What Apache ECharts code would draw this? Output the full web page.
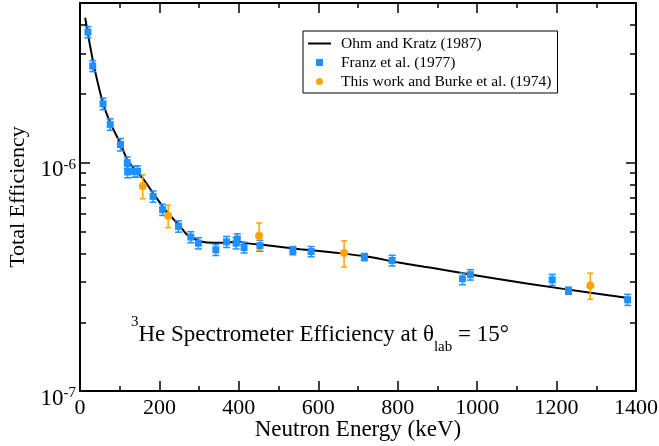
<!DOCTYPE html>
<html>
<head>
<meta charset="utf-8">
<style>
  html, body { margin: 0; padding: 0; background: #fff; }
  #chart { width: 659px; height: 446px; }
</style>
<script src="https://cdn.jsdelivr.net/npm/echarts@6/dist/echarts.min.js"></script>
</head>
<body>
<div id="chart"></div>
<script>
// Ohm and Kratz (1987) efficiency curve (keV, efficiency)
const curveEnergy = [13, 24, 37, 58, 78, 100, 118, 134, 155, 185, 218, 252, 269, 294, 319, 361, 398, 423, 470, 554, 638, 722, 806, 881, 932, 1049, 1217, 1385];
const curveEff = [4.31e-6, 3.35e-6, 2.56e-6, 1.82e-6, 1.47e-6, 1.23e-6, 1.04e-6, 0.95e-6, 0.868e-6, 0.732e-6, 0.611e-6, 0.526e-6, 0.485e-6, 0.459e-6, 0.447e-6, 0.446e-6, 0.45e-6, 0.443e-6, 0.435e-6, 0.418e-6, 0.404e-6, 0.388e-6, 0.364e-6, 0.347e-6, 0.335e-6, 0.31e-6, 0.28e-6, 0.255e-6];

// Franz et al. (1977) measurements
const franzEnergy = [20, 32, 58, 76, 102, 119, 120, 137, 145, 184, 208, 248, 279, 298, 342, 369, 393, 396, 413, 453, 536, 582, 716, 786, 963, 983, 1189, 1230, 1379];
const franzEff = [3.73e-6, 2.65e-6, 1.81e-6, 1.47e-6, 1.20e-6, 1.0e-6, 0.91e-6, 0.915e-6, 0.915e-6, 0.711e-6, 0.622e-6, 0.526e-6, 0.472e-6, 0.444e-6, 0.415e-6, 0.45e-6, 0.444e-6, 0.463e-6, 0.425e-6, 0.433e-6, 0.412e-6, 0.408e-6, 0.386e-6, 0.373e-6, 0.31e-6, 0.323e-6, 0.307e-6, 0.275e-6, 0.251e-6];
const franzErr = [0.21e-6, 0.147e-6, 0.105e-6, 0.085e-6, 0.075e-6, 0.058e-6, 0.052e-6, 0.052e-6, 0.052e-6, 0.04e-6, 0.035e-6, 0.03e-6, 0.026e-6, 0.025e-6, 0.023e-6, 0.025e-6, 0.025e-6, 0.025e-6, 0.023e-6, 0.024e-6, 0.017e-6, 0.021e-6, 0.014e-6, 0.02e-6, 0.018e-6, 0.017e-6, 0.017e-6, 0.01e-6, 0.014e-6];

// This work and Burke et al. (1974)
const burkeEnergy = [158, 222, 451, 665, 1285];
const burkeEff = [0.79e-6, 0.585e-6, 0.478e-6, 0.402e-6, 0.29e-6];
const burkeErr = [0.095e-6, 0.066e-6, 0.066e-6, 0.053e-6, 0.038e-6];

// Axis ticks
const xTicks = [0, 200, 400, 600, 800, 1000, 1200, 1400];
const yMajorTicks = [1e-7, 1e-6];
const yMinorTicks = [2e-7, 3e-7, 4e-7, 5e-7, 6e-7, 7e-7, 8e-7, 9e-7, 2e-6, 3e-6, 4e-6];

const FONT = 'Liberation Serif';
const BLUE = '#1E90FF';
const ORANGE = '#FFA500';

const zip = (xs, ys) => xs.map((x, i) => [x, ys[i]]);
const errRows = (xs, ys, es) => xs.map((x, i) => [x, ys[i] - es[i], ys[i] + es[i]]);

function errorBarRenderer(color, capHalf) {
  return function (params, api) {
    const x = api.value(0);
    const lo = api.coord([x, api.value(1)]);
    const hi = api.coord([x, api.value(2)]);
    const style = { stroke: color, lineWidth: 1.5, fill: null };
    return {
      type: 'group',
      children: [
        { type: 'line', shape: { x1: lo[0], y1: lo[1], x2: hi[0], y2: hi[1] }, style },
        { type: 'line', shape: { x1: lo[0] - capHalf, y1: lo[1], x2: lo[0] + capHalf, y2: lo[1] }, style },
        { type: 'line', shape: { x1: hi[0] - capHalf, y1: hi[1], x2: hi[0] + capHalf, y2: hi[1] }, style }
      ]
    };
  };
}

// "10" with a raised exponent
const expLabel = {
  padding: [14, 0, 0, 0],
  formatter: function (v) {
    const e = Math.round(Math.log10(v));
    return '{b|10}{s|' + e + '}';
  },
  rich: {
    b: { fontFamily: FONT, fontSize: 23, color: '#000', lineHeight: 24, verticalAlign: 'bottom' },
    s: { fontFamily: FONT, fontSize: 15, color: '#000', lineHeight: 8, verticalAlign: 'top' }
  }
};

function yAxisDef(position, custom, len, showLine, withLabel) {
  return {
    type: 'log',
    position: position,
    min: 1e-7,
    max: 5e-6,
    logBase: 10,
    splitLine: { show: false },
    axisLine: { show: showLine, lineStyle: { color: '#000', width: 2 } },
    axisTick: { show: true, inside: true, length: len, customValues: custom, lineStyle: { color: '#000', width: 1.5 } },
    minorTick: { show: false },
    axisLabel: withLabel
      ? Object.assign({ show: true, margin: 4, customValues: yMajorTicks }, expLabel)
      : { show: false },
    name: withLabel ? 'Total Efficiency' : '',
    nameLocation: 'middle',
    nameGap: 51,
    nameMoveOverlap: false,
    nameTextStyle: { fontFamily: FONT, fontSize: 22, color: '#000' }
  };
}

function xAxisDef(position, withLabel) {
  return {
    type: 'value',
    position: position,
    min: 0,
    max: 1400,
    interval: 200,
    splitLine: { show: false },
    axisLine: { show: true, onZero: false, lineStyle: { color: '#000', width: 2 } },
    axisTick: { show: true, inside: true, length: 10, lineStyle: { color: '#000', width: 1.5 } },
    minorTick: { show: true, splitNumber: 2, length: 5, lineStyle: { color: '#000', width: 1.5 } },
    axisLabel: withLabel
      ? {
          show: true, margin: 6, fontFamily: FONT, fontSize: 22, color: '#000',
          customValues: xTicks,
          formatter: function (v) { return String(v); }
        }
      : { show: false },
    name: withLabel ? 'Neutron Energy (keV)' : '',
    nameLocation: 'middle',
    nameGap: 27,
    nameMoveOverlap: false,
    nameTextStyle: { fontFamily: FONT, fontSize: 23, color: '#000' }
  };
}

const chart = echarts.init(document.getElementById('chart'), null, { renderer: 'canvas' });

chart.setOption({
  animation: false,
  backgroundColor: '#fff',
  grid: { left: 80, right: 23, top: 3, bottom: 55, containLabel: false, outerBoundsMode: 'none' },
  xAxis: [xAxisDef('bottom', true), xAxisDef('top', false)],
  yAxis: [
    yAxisDef('left', yMajorTicks, 10, true, true),
    yAxisDef('left', yMinorTicks, 6, false, false),
    yAxisDef('right', yMajorTicks, 10, true, false),
    yAxisDef('right', yMinorTicks, 6, false, false)
  ],
  legend: {
    orient: 'vertical',
    left: 303,
    top: 31,
    padding: [3, 6, 2, 5],
    borderColor: '#000',
    borderWidth: 1,
    backgroundColor: '#fff',
    itemWidth: 23,
    itemHeight: 7,
    itemGap: 0,
    symbolKeepAspect: true,
    selectedMode: false,
    textStyle: { fontFamily: FONT, fontSize: 15.5, color: '#000', lineHeight: 19, padding: [0, 0, 0, 5] },
    data: [
      { name: 'Ohm and Kratz (1987)', icon: 'path://M0,0 L23,0 L23,2 L0,2 Z' },
      { name: 'Franz et al. (1977)', icon: 'path://M0,0 L1,0 L1,1 L0,1 Z' },
      { name: 'This work and Burke et al. (1974)', icon: 'circle' }
    ]
  },
  graphic: [{
    type: 'text',
    left: 131,
    top: 315,
    style: {
      text: '{sup|3}{m|He Spectrometer Efficiency at θ}{sub|lab}{m| = 15°}',
      rich: {
        m: { fontFamily: FONT, fontSize: 23, color: '#000', lineHeight: 40, verticalAlign: 'middle' },
        sup: { fontFamily: FONT, fontSize: 15, color: '#000', lineHeight: 26, verticalAlign: 'top' },
        sub: { fontFamily: FONT, fontSize: 15, color: '#000', lineHeight: 17, verticalAlign: 'bottom' }
      }
    }
  }],
  series: [
    {
      name: 'Ohm and Kratz (1987)',
      type: 'line',
      data: zip(curveEnergy, curveEff),
      smooth: 0.3,
      symbol: 'none',
      lineStyle: { color: '#000', width: 2 },
      itemStyle: { color: '#000' },
      z: 2
    },
    {
      name: 'franzErr',
      type: 'custom',
      data: errRows(franzEnergy, franzEff, franzErr),
      renderItem: errorBarRenderer(BLUE, 3.5),
      encode: { x: 0, y: [1, 2] },
      z: 3
    },
    {
      name: 'Franz et al. (1977)',
      type: 'scatter',
      data: zip(franzEnergy, franzEff),
      symbol: 'rect',
      symbolSize: 7,
      itemStyle: { color: BLUE, opacity: 1 },
      z: 4
    },
    {
      name: 'burkeErr',
      type: 'custom',
      data: errRows(burkeEnergy, burkeEff, burkeErr),
      renderItem: errorBarRenderer(ORANGE, 3),
      encode: { x: 0, y: [1, 2] },
      z: 3
    },
    {
      name: 'This work and Burke et al. (1974)',
      type: 'scatter',
      data: zip(burkeEnergy, burkeEff),
      symbol: 'circle',
      symbolSize: 8,
      itemStyle: { color: ORANGE, opacity: 1 },
      z: 4
    }
  ]
});
</script>
</body>
</html>
